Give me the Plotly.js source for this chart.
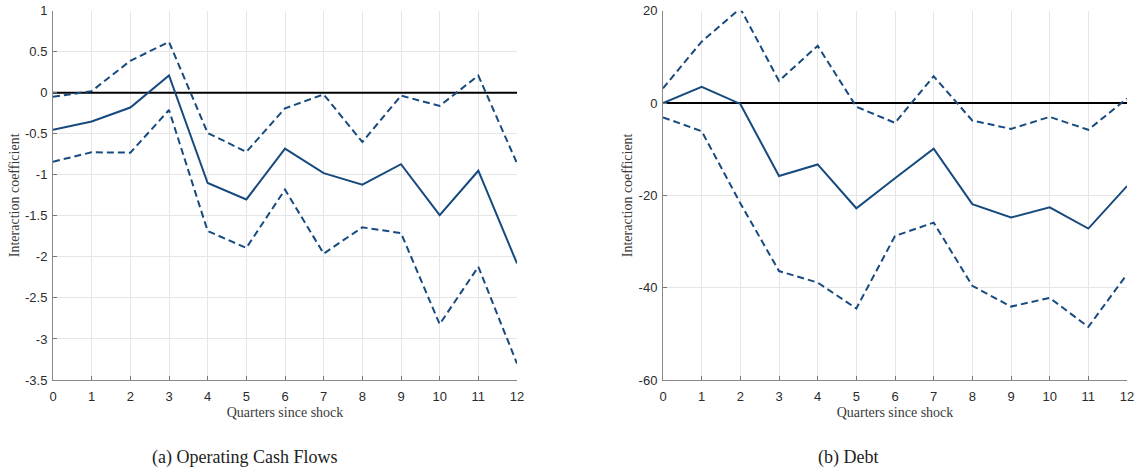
<!DOCTYPE html>
<html><head><meta charset="utf-8">
<script src="https://cdn.plot.ly/plotly-3.0.1.min.js"></script>
<style>html,body{margin:0;padding:0;background:#fff}#chart{width:1138px;height:474px}</style>
</head><body><div id="chart"></div>
<script>
const quarters = [0,1,2,3,4,5,6,7,8,9,10,11,12];

const cashEstimate = [-0.45,-0.35,-0.18,0.21,-1.1,-1.30,-0.68,-0.98,-1.12,-0.87,-1.49,-0.95,-2.08];
const cashUpper    = [-0.05,0.02,0.39,0.62,-0.49,-0.72,-0.19,-0.02,-0.6,-0.035,-0.16,0.21,-0.86];
const cashLower    = [-0.84,-0.725,-0.73,-0.21,-1.685,-1.89,-1.18,-1.96,-1.64,-1.71,-2.82,-2.12,-3.30];

const debtEstimate = [0,3.5,-0.2,-15.8,-13.3,-22.8,-16.3,-9.9,-21.9,-24.8,-22.6,-27.2,-18];
const debtUpper    = [3.2,13.3,20.5,4.8,12.4,-0.8,-4.3,5.8,-3.8,-5.6,-3,-5.8,1.0];
const debtLower    = [-3.1,-6.1,-21.7,-36.4,-38.9,-44.5,-28.8,-25.9,-39.6,-44.1,-42.2,-48.5,-37.1];

const zeroLine = [0,0,0,0,0,0,0,0,0,0,0,0,0];

const cashTicks = [1,0.5,0,-0.5,-1,-1.5,-2,-2.5,-3,-3.5];
const cashTickText = ['1','0.5','0','-0.5','-1','-1.5','-2','-2.5','-3','-3.5'];
const debtTicks = [20,0,-20,-40,-60];
const debtTickText = ['20','0','-20','-40','-60'];
const quarterText = ['0','1','2','3','4','5','6','7','8','9','10','11','12'];

const xTitle = 'Quarters since shock';
const yTitle = 'Interaction coefficient';
const captionA = '(a) Operating Cash Flows';
const captionB = '(b) Debt';

const blue = '#174a7e';
const dashPat = '7px,4px';

function tr(y, xa, ya, dash, color, w) {
  return {x: quarters, y: y, xaxis: xa, yaxis: ya, type: 'scatter', mode: 'lines',
    line: {color: color || blue, width: w || 2, dash: dash || 'solid'}, hoverinfo: 'skip', showlegend: false};
}

const data = [
  tr(zeroLine,'x','y','solid','#000',2),
  tr(cashUpper,'x','y',dashPat),
  tr(cashLower,'x','y',dashPat),
  tr(cashEstimate,'x','y'),
  tr(zeroLine,'x2','y2','solid','#000',2),
  tr(debtUpper,'x2','y2',dashPat),
  tr(debtLower,'x2','y2',dashPat),
  tr(debtEstimate,'x2','y2')
];

const tickFont = {family: 'Liberation Sans, Arial, sans-serif', size: 13, color: '#2b2b2b'};
const titleFont = {family: 'Liberation Serif, Times New Roman, serif', size: 14, color: '#3a3a3a'};
const capFont = {family: 'Liberation Serif, Times New Roman, serif', size: 18, color: '#222'};

function xax(domain, anchor) {
  return {domain: domain, anchor: anchor, range: [0,12], tickvals: quarters, ticktext: quarterText,
    ticks: 'inside', ticklen: 4, ticklabelstandoff: 4,
    tickcolor: '#777', showline: true, linecolor: '#888', linewidth: 1, showgrid: true, gridcolor: '#e6e6e6',
    zeroline: false, tickfont: tickFont, fixedrange: true,
    title: {text: xTitle, font: titleFont, standoff: 4}};
}
function yax(domain, anchor, range, ticks, text) {
  return {domain: domain, anchor: anchor, range: range, tickvals: ticks, ticktext: text,
    ticks: 'inside', ticklen: 4, ticklabelstandoff: 2,
    tickcolor: '#777', showline: true, linecolor: '#888', linewidth: 1, showgrid: true, gridcolor: '#e6e6e6',
    zeroline: false, tickfont: tickFont, fixedrange: true,
    title: {text: yTitle, font: titleFont, standoff: 2}};
}

const yDom = [(474-380)/474, (474-10.7)/474];
const layout = {
  width: 1138, height: 474,
  margin: {l: 0, r: 0, t: 0, b: 0},
  paper_bgcolor: '#fff', plot_bgcolor: '#fff',
  xaxis: xax([53/1138, 517/1138], 'y'),
  yaxis: yax(yDom, 'x', [-3.5, 1], cashTicks, cashTickText),
  xaxis2: xax([663/1138, 1127/1138], 'y2'),
  yaxis2: yax(yDom, 'x2', [-60, 20], debtTicks, debtTickText),
  annotations: [
    {text: captionA, xref: 'paper', yref: 'paper', x: 244/1138, y: (474-457)/474, xanchor: 'center', yanchor: 'middle',
     showarrow: false, font: capFont},
    {text: captionB, xref: 'paper', yref: 'paper', x: 848/1138, y: (474-457)/474, xanchor: 'center', yanchor: 'middle',
     showarrow: false, font: capFont}
  ]
};

Plotly.newPlot('chart', data, layout, {displayModeBar: false, staticPlot: true});
</script>
</body></html>
